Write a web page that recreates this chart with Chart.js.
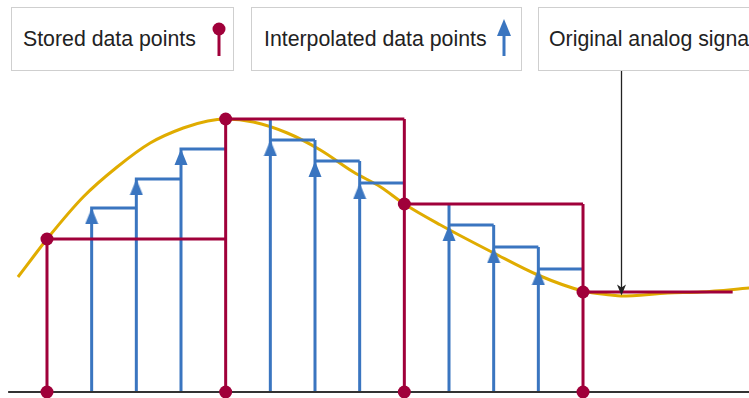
<!DOCTYPE html>
<html>
<head>
<meta charset="utf-8">
<script src="https://cdn.jsdelivr.net/npm/chart.js@4.4.1/dist/chart.umd.min.js"></script>
<style>
  html, body { margin: 0; padding: 0; background: #fff; overflow: hidden; }
  #wrap { position: relative; width: 749px; height: 398px; overflow: hidden; }
  #chart { position: absolute; left: 0; top: 0; }
  .key {
    position: absolute; top: 7px; height: 64px; box-sizing: border-box;
    border: 1px solid #cfcfcf; background: #fff;
    font-family: "Liberation Sans", Arial, sans-serif; font-size: 21.3px; color: #222;
    display: flex; align-items: center; white-space: nowrap;
  }
  .key svg { position: absolute; }
</style>
</head>
<body>
<div id="wrap">
  <canvas id="chart" width="749" height="398"></canvas>
  <div class="key" style="left:11px; width:223px; padding-left:11px;">
    <span>Stored data points</span>
    <svg style="left:199px; top:13px;" width="16" height="42">
      <line x1="8" y1="8" x2="8" y2="35" stroke="#a0003a" stroke-width="3"/>
      <circle cx="8" cy="8" r="6.5" fill="#a0003a"/>
    </svg>
  </div>
  <div class="key" style="left:251px; width:271px; padding-left:12px;">
    <span>Interpolated data points</span>
    <svg style="left:243px; top:3px;" width="18" height="50">
      <line x1="9" y1="20" x2="9" y2="45" stroke="#3a75c0" stroke-width="3"/>
      <polygon points="9,8 2,25 16,25" fill="#3a75c0"/>
    </svg>
  </div>
  <div class="key" style="left:538px; width:260px; padding-left:10px;">
    <span>Original analog signal</span>
  </div>
</div>
<script>
"use strict";
// sample index (x) and amplitude (y); baseline is y = 0
const storedT = [0, 4, 8, 12];
const storedV = [1.53, 2.73, 1.88, 1.00];
const interpT = [1, 2, 3, 5, 6, 7, 9, 10, 11];
const interpV = [1.84, 2.13, 2.43, 2.52, 2.31, 2.09, 1.67, 1.45, 1.23];
const holdEndT = 15.35;
const baseT = [-0.87, 15.72];
// original analog signal
const signalT = [-0.65, -0.31, 0, 0.81, 1.57, 2.31, 3.05, 3.6, 4.0, 4.62, 5.38, 6.12, 6.86, 7.47, 8.0, 8.81, 10.0, 10.99, 12.0, 12.62, 12.85, 13.9, 14.64, 15.74];
const signalV = [1.15, 1.35, 1.53, 1.95, 2.25, 2.49, 2.64, 2.71, 2.73, 2.70, 2.59, 2.42, 2.20, 2.05, 1.88, 1.67, 1.39, 1.17, 1.01, 0.97, 0.96, 0.99, 1.00, 1.04];
const pointerT = 12.85;
const pointerV = 0.965;

const RED = "#a0003a";
const BLUE = "#3a75c0";
const GOLD = "#e0ac00";

// red hold lines: stem from baseline up to the held level, then hold to the next sample
const redLine = [];
storedT.forEach((t, i) => {
  const next = i < storedT.length - 1 ? storedT[i + 1] : holdEndT;
  const prev = i > 0 ? storedV[i - 1] : storedV[i];
  redLine.push({ x: t, y: 0 }, { x: t, y: Math.max(prev, storedV[i]) }, { x: t, y: storedV[i] }, { x: next, y: storedV[i] }, { x: t, y: null });
});

// blue staircase: stem up to the higher of the previous level and this one, then hold
const blueLine = [];
interpT.forEach((t, i) => {
  const si = storedT.indexOf(t - 1);
  const prev = si >= 0 ? storedV[si] : interpV[i - 1];
  blueLine.push({ x: t, y: 0 }, { x: t, y: Math.max(prev, interpV[i]) }, { x: t, y: interpV[i] }, { x: t + 1, y: interpV[i] }, { x: t, y: null });
});

// arrowhead image, tip at the centre so it lands on the value
const head = document.createElement("canvas");
head.width = 14;
head.height = 32;
const hctx = head.getContext("2d");
hctx.fillStyle = BLUE;
hctx.beginPath();
hctx.moveTo(7, 16);
hctx.lineTo(0.5, 32);
hctx.lineTo(13.5, 32);
hctx.closePath();
hctx.fill();

const pointerArrow = {
  id: "pointerArrow",
  afterDatasetsDraw(chart) {
    const { ctx, scales } = chart;
    const px = Math.round(scales.x.getPixelForValue(pointerT)) + 0.5;
    const tip = scales.y.getPixelForValue(pointerV);
    ctx.save();
    ctx.strokeStyle = "#222";
    ctx.fillStyle = "#222";
    ctx.lineWidth = 1.3;
    ctx.beginPath();
    ctx.moveTo(px, 70);
    ctx.lineTo(px, tip - 6);
    ctx.stroke();
    ctx.beginPath();
    ctx.moveTo(px, tip);
    ctx.lineTo(px - 4.5, tip - 11);
    ctx.lineTo(px, tip - 8);
    ctx.lineTo(px + 4.5, tip - 11);
    ctx.closePath();
    ctx.fill();
    ctx.restore();
  }
};

new Chart(document.getElementById("chart"), {
  type: "line",
  data: {
    datasets: [
      {
        data: signalT.map((t, i) => ({ x: t, y: signalV[i] })),
        borderColor: GOLD, borderWidth: 3, pointRadius: 0,
        cubicInterpolationMode: "monotone", order: 6
      },
      {
        data: blueLine, borderColor: BLUE, borderWidth: 3, pointRadius: 0,
        borderJoinStyle: "miter", borderCapStyle: "butt", spanGaps: false, order: 5
      },
      {
        type: "scatter",
        data: interpT.map((t, i) => ({ x: t, y: interpV[i] })),
        pointStyle: head, pointRadius: 8, order: 4
      },
      {
        data: baseT.map(t => ({ x: t, y: 0 })),
        borderColor: "#333", borderWidth: 2, pointRadius: 0, order: 3
      },
      {
        data: redLine, borderColor: RED, borderWidth: 3, pointRadius: 0,
        borderJoinStyle: "miter", spanGaps: false, order: 2
      },
      {
        type: "scatter",
        data: storedT.map((t, i) => ({ x: t, y: storedV[i] })).concat(storedT.map(t => ({ x: t, y: 0 }))),
        backgroundColor: RED, borderWidth: 0, pointRadius: 6.5, order: 1
      }
    ]
  },
  options: {
    responsive: false,
    animation: false,
    layout: { padding: 0, autoPadding: false },
    scales: {
      x: { type: "linear", display: false, min: -1.052, max: 15.716 },
      y: { type: "linear", display: false, min: -0.06, max: 3.92 }
    },
    plugins: { legend: { display: false }, tooltip: { enabled: false } },
    elements: { line: { tension: 0 } }
  },
  plugins: [pointerArrow]
});
</script>
</body>
</html>
